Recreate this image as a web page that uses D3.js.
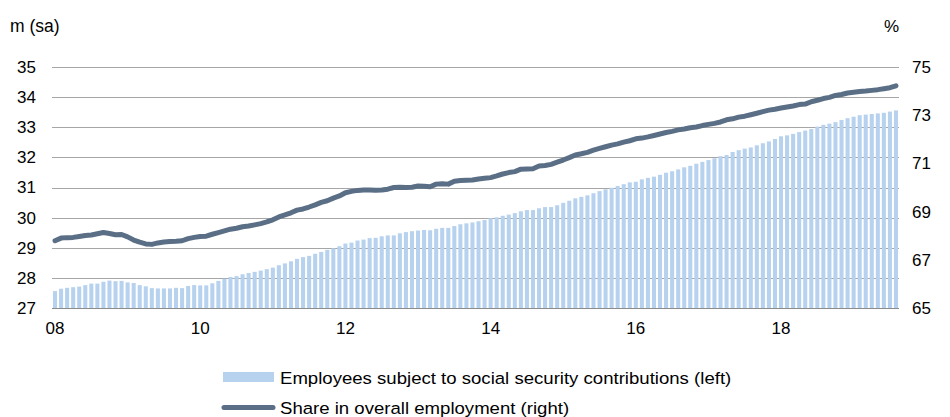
<!DOCTYPE html>
<html>
<head>
<meta charset="utf-8">
<script src="https://cdn.jsdelivr.net/npm/d3@7"></script>
<style>
  html, body { margin: 0; padding: 0; background: #fff; }
  svg { display: block; font-family: "Liberation Sans", Arial, sans-serif; }
</style>
</head>
<body>
<svg id="chart" width="950" height="417"></svg>
<script>
// Monthly observations, January 2008 to August 2019
const months = d3.timeMonths(new Date(2008, 0, 1), new Date(2019, 8, 1));

// Employees subject to social security contributions, millions, seasonally adjusted (left axis)
const employees = [
  27.56, 27.64, 27.67, 27.69, 27.71, 27.76, 27.81, 27.81, 27.87, 27.91, 27.89, 27.90,
  27.85, 27.83, 27.76, 27.72, 27.66, 27.65, 27.65, 27.65, 27.67, 27.66, 27.73, 27.76,
  27.75, 27.75, 27.82, 27.90, 27.97, 28.03, 28.06, 28.12, 28.16, 28.20, 28.24, 28.29,
  28.34, 28.42, 28.48, 28.55, 28.63, 28.69, 28.73, 28.80, 28.86, 28.93, 28.98, 29.05,
  29.14, 29.17, 29.24, 29.27, 29.32, 29.33, 29.38, 29.41, 29.41, 29.48, 29.52, 29.55,
  29.57, 29.59, 29.58, 29.63, 29.66, 29.66, 29.72, 29.78, 29.81, 29.84, 29.88, 29.92,
  29.98, 30.01, 30.06, 30.10, 30.15, 30.21, 30.25, 30.25, 30.31, 30.35, 30.35, 30.41,
  30.49, 30.56, 30.64, 30.69, 30.74, 30.81, 30.88, 30.94, 30.99, 31.05, 31.11, 31.17,
  31.19, 31.27, 31.32, 31.36, 31.42, 31.49, 31.54, 31.60, 31.67, 31.72, 31.79, 31.85,
  31.91, 31.97, 32.04, 32.08, 32.18, 32.24, 32.29, 32.33, 32.40, 32.47, 32.53, 32.61,
  32.70, 32.73, 32.78, 32.84, 32.89, 32.94, 33.02, 33.08, 33.12, 33.17, 33.24, 33.30,
  33.35, 33.40, 33.42, 33.44, 33.46, 33.48, 33.52, 33.56
];

// Their share in overall employment, percent (right axis)
const share = [
  67.79, 67.90, 67.92, 67.93, 67.97, 68.01, 68.03, 68.08, 68.13, 68.09, 68.04, 68.05,
  67.95, 67.82, 67.73, 67.66, 67.64, 67.70, 67.74, 67.76, 67.77, 67.79, 67.88, 67.93,
  67.97, 67.98, 68.06, 68.13, 68.20, 68.27, 68.31, 68.37, 68.40, 68.45, 68.50, 68.57,
  68.66, 68.78, 68.86, 68.95, 69.06, 69.11, 69.19, 69.28, 69.38, 69.45, 69.56, 69.65,
  69.78, 69.84, 69.88, 69.90, 69.90, 69.89, 69.90, 69.93, 70.00, 70.01, 70.00, 70.01,
  70.06, 70.05, 70.03, 70.14, 70.16, 70.14, 70.26, 70.29, 70.30, 70.31, 70.35, 70.38,
  70.41, 70.48, 70.56, 70.62, 70.66, 70.76, 70.77, 70.78, 70.89, 70.91, 70.96, 71.05,
  71.14, 71.24, 71.35, 71.40, 71.46, 71.55, 71.62, 71.69, 71.76, 71.81, 71.88, 71.94,
  72.02, 72.05, 72.10, 72.16, 72.22, 72.28, 72.33, 72.39, 72.43, 72.48, 72.51, 72.57,
  72.62, 72.66, 72.72, 72.81, 72.85, 72.92, 72.96, 73.02, 73.08, 73.15, 73.21, 73.25,
  73.30, 73.34, 73.38, 73.44, 73.46, 73.56, 73.62, 73.69, 73.74, 73.82, 73.86, 73.92,
  73.95, 73.98, 74.00, 74.03, 74.06, 74.10, 74.14, 74.22
];

const leftTicks = [27, 28, 29, 30, 31, 32, 33, 34, 35];
const rightTicks = [65, 67, 69, 71, 73, 75];
const yearTicks = [2008, 2010, 2012, 2014, 2016, 2018];
const yearLabels = ["08", "10", "12", "14", "16", "18"];

const seriesNames = [
  "Employees subject to social security contributions (left)",
  "Share in overall employment (right)"
];

const barColor = "#b7d2ef";
const lineColor = "#5a6f86";
const gridColor = "#a6a6a6";

const svg = d3.select("#chart");
const plot = { left: 52, right: 899, top: 67, bottom: 308 };

const x = d3.scaleBand()
  .domain(d3.range(months.length))
  .range([plot.left, plot.right])
  .paddingInner(0.33)
  .paddingOuter(0.165);

const yL = d3.scaleLinear().domain([27, 35]).range([plot.bottom, plot.top]);
const yR = d3.scaleLinear().domain([65, 75]).range([plot.bottom, plot.top]);

// horizontal grid lines on the left scale
svg.append("g")
  .selectAll("line")
  .data(leftTicks)
  .join("line")
  .attr("x1", plot.left)
  .attr("x2", plot.right)
  .attr("y1", d => Math.round(yL(d)) + 0.5)
  .attr("y2", d => Math.round(yL(d)) + 0.5)
  .attr("stroke", (d, i) => i === 0 ? "#8c8c8c" : gridColor)
  .attr("stroke-width", 1);

// bars
svg.append("g")
  .selectAll("rect")
  .data(employees)
  .join("rect")
  .attr("x", (d, i) => x(i))
  .attr("width", x.bandwidth())
  .attr("y", d => yL(d))
  .attr("height", d => yL(27) - yL(d))
  .attr("fill", barColor);

// share line
const line = d3.line()
  .x((d, i) => x(i) + x.bandwidth() / 2)
  .y(d => yR(d));

svg.append("path")
  .datum(share)
  .attr("d", line)
  .attr("fill", "none")
  .attr("stroke", lineColor)
  .attr("stroke-width", 5)
  .attr("stroke-linejoin", "round")
  .attr("stroke-linecap", "round");

// axes
const axisFont = 17;

const leftAxis = d3.axisLeft(yL).tickValues(leftTicks).tickSize(0).tickPadding(16);
svg.append("g")
  .attr("transform", `translate(${plot.left},0)`)
  .call(leftAxis)
  .call(g => g.select(".domain").remove())
  .call(g => g.selectAll("text").attr("font-size", axisFont).attr("fill", "#000")
    .attr("font-family", "Liberation Sans, Arial, sans-serif"));

const rightAxis = d3.axisRight(yR).tickValues(rightTicks).tickSize(0).tickPadding(13);
svg.append("g")
  .attr("transform", `translate(${plot.right},0)`)
  .call(rightAxis)
  .call(g => g.select(".domain").remove())
  .call(g => g.selectAll("text").attr("font-size", axisFont).attr("fill", "#000")
    .attr("font-family", "Liberation Sans, Arial, sans-serif"));

const tickIndex = yearTicks.map(yr => months.findIndex(m => m.getFullYear() === yr && m.getMonth() === 0));
const bottomAxis = d3.axisBottom(x)
  .tickValues(tickIndex)
  .tickFormat((d, i) => yearLabels[i])
  .tickSize(0)
  .tickPadding(14);
svg.append("g")
  .attr("transform", `translate(0,${plot.bottom})`)
  .call(bottomAxis)
  .call(g => g.select(".domain").remove())
  .call(g => g.selectAll("text").attr("font-size", axisFont).attr("fill", "#000")
    .attr("font-family", "Liberation Sans, Arial, sans-serif"));

// unit labels
svg.append("text").attr("x", 10).attr("y", 32)
  .attr("font-size", 17.5).text("m (sa)");
svg.append("text").attr("x", 899).attr("y", 32).attr("text-anchor", "end")
  .attr("font-size", axisFont).text("%");

// legend: the text is set slightly wide
const legendFont = 16.5;
const legendStretch = 1.127;
const legend = svg.append("g");
legend.append("rect")
  .attr("x", 223).attr("y", 372).attr("width", 51).attr("height", 10)
  .attr("fill", barColor);
legend.append("text")
  .attr("transform", `translate(280,383.5) scale(${legendStretch},1)`)
  .attr("font-size", legendFont).text(seriesNames[0]);
legend.append("line")
  .attr("x1", 224).attr("x2", 273).attr("y1", 407.5).attr("y2", 407.5)
  .attr("stroke", lineColor).attr("stroke-width", 5).attr("stroke-linecap", "round");
legend.append("text")
  .attr("transform", `translate(280,413.5) scale(${legendStretch},1)`)
  .attr("font-size", legendFont).text(seriesNames[1]);
</script>
</body>
</html>
